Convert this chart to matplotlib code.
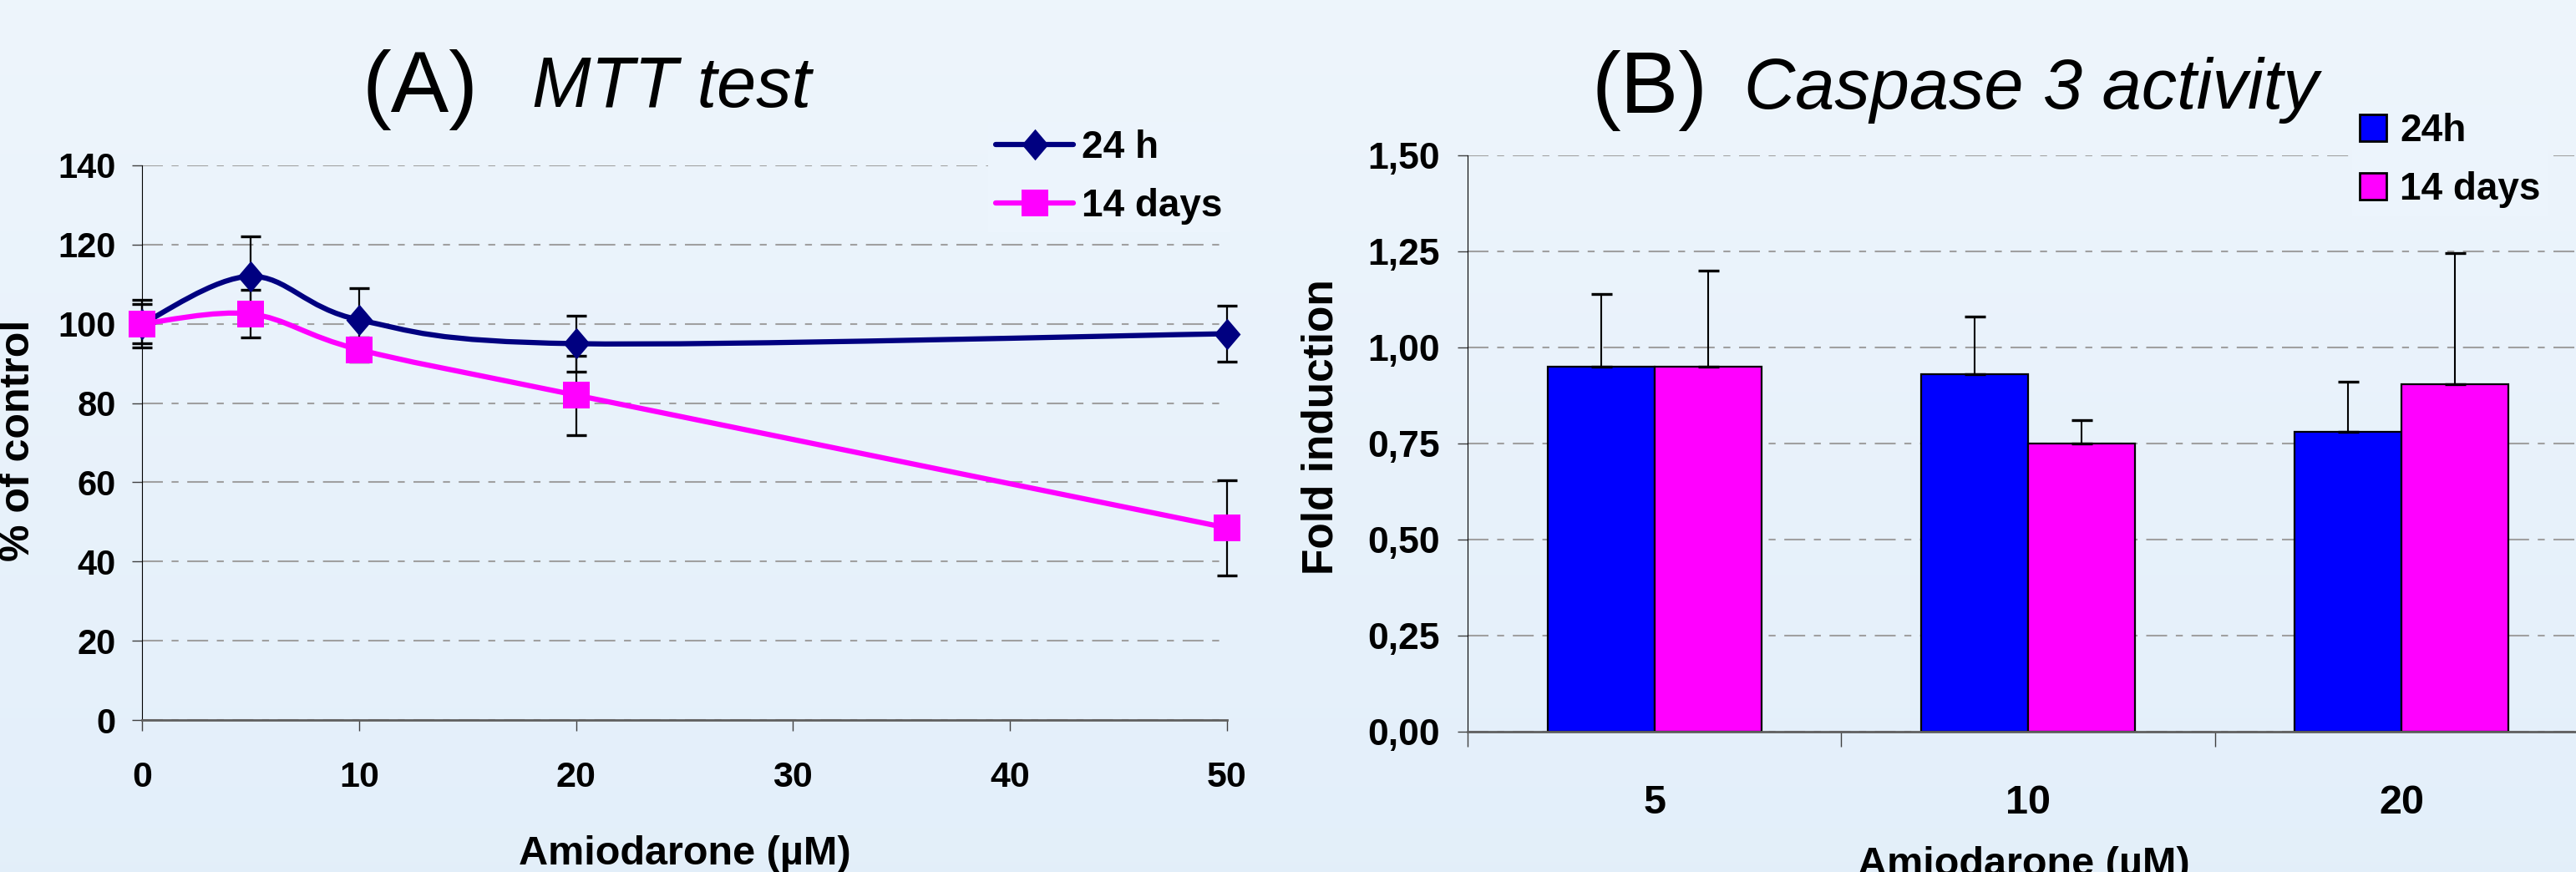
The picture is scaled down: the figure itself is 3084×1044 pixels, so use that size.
import matplotlib
matplotlib.use("Agg")
import matplotlib.pyplot as plt
import numpy as np
from matplotlib.path import Path
from matplotlib.patches import PathPatch, Patch
from matplotlib.lines import Line2D

plt.rcParams['font.family'] = ['Liberation Sans', 'DejaVu Sans']

# (A) MTT test, % of control
conc = [0, 5, 10, 20, 50]
mtt_24h = [100, 112, 101, 95, 97.5]
mtt_24h_err = [6, 10, 8, 7, 7]
mtt_14d = [100, 102.5, 93.5, 82, 48.5]
mtt_14d_err = [5, 6, 3, 10, 12]
mtt_yticks = [0, 20, 40, 60, 80, 100, 120, 140]

# (B) Caspase 3 activity, fold induction
casp_doses = ['5', '10', '20']
casp_24h = [0.95, 0.93, 0.78]
casp_24h_err = [0.19, 0.15, 0.13]
casp_14d = [0.95, 0.75, 0.905]
casp_14d_err = [0.25, 0.06, 0.34]
casp_yticks = [0.0, 0.25, 0.5, 0.75, 1.0, 1.25, 1.5]

NAVY = '#000080'
MAGENTA = '#FF00FF'
BLUE = '#0000FF'
GRID = '#A0A0A0'
W, H = 3084, 1044
LW = 4.5

fig = plt.figure(figsize=(W / 100, H / 100), dpi=100)

# light blue gradient background
bg = fig.add_axes([0, 0, 1, 1], zorder=-10)
top = np.array([0.933, 0.961, 0.988])
bot = np.array([0.890, 0.937, 0.980])
grad = np.linspace(0, 1, 256)[:, None, None] * (bot - top) + top
bg.imshow(np.repeat(grad, 2, axis=1), aspect='auto', extent=[0, 1, 0, 1])
bg.axis('off')


def bg_at(ypix):
    f = ypix / H
    return tuple(top + (bot - top) * f)


def smooth_path(ax, xs, ys):
    # Excel-style smoothed line: Catmull-Rom converted to cubic Bezier
    pts = ax.transData.transform(np.column_stack([xs, ys]))
    n = len(pts)
    verts = [pts[0]]
    codes = [Path.MOVETO]
    for i in range(n - 1):
        p0 = pts[max(i - 1, 0)]
        p1 = pts[i]
        p2 = pts[i + 1]
        p3 = pts[min(i + 2, n - 1)]
        verts += [p1 + (p2 - p0) / 6, p2 - (p3 - p1) / 6, p2]
        codes += [Path.CURVE4] * 3
    verts = ax.transData.inverted().transform(np.array(verts))
    return Path(verts, codes)


def style_grid(ax):
    ax.yaxis.grid(True, color=GRID, linewidth=1.5, dashes=(12, 5, 4, 5))
    ax.set_axisbelow(True)
    for s in ('top', 'right'):
        ax.spines[s].set_visible(False)
    ax.spines['left'].set_color('black')
    ax.spines['left'].set_linewidth(0.8)
    ax.spines['bottom'].set_color('#606060')
    ax.spines['bottom'].set_linewidth(2)
    ax.set_facecolor('none')


# ---------------- panel A ----------------
ax1 = fig.add_axes([170 / W, 1 - 862 / H, (1469 - 170) / W, (862 - 198) / H])
ax1.set_xlim(0, 50)
ax1.set_ylim(0, 140)
style_grid(ax1)
ax1.set_yticks(mtt_yticks, [str(v) for v in mtt_yticks], fontsize=30, fontweight='bold')
ax1.set_xticks([0, 10, 20, 30, 40, 50], ['0', '10', '20', '30', '40', '50'],
               fontsize=31, fontweight='bold')
ax1.tick_params(axis='y', direction='out', length=8.6, width=1, color='#404040', pad=14)
ax1.tick_params(axis='x', direction='out', length=9.4, width=1, color='#404040', pad=26)

diamond = [(0, 1), (0.85, 0), (0, -1), (-0.85, 0), (0, 1)]
for ys, err, col, mk, ms in [(mtt_24h, mtt_24h_err, NAVY, diamond, 27),
                             (mtt_14d, mtt_14d_err, MAGENTA, 's', 23)]:
    ax1.add_patch(PathPatch(smooth_path(ax1, conc, ys), fill=False, edgecolor=col,
                            linewidth=LW, capstyle='round', joinstyle='round',
                            zorder=2, clip_on=False))
    eb = ax1.errorbar(conc, ys, yerr=err, fmt='none', ecolor='black', elinewidth=1.6,
                      capsize=8.5, capthick=2.4, zorder=3)
    for art in eb.get_children():
        art.set_clip_on(False)
    ax1.plot(conc, ys, linestyle='none', marker=mk, ms=ms, mew=0, color=col,
             zorder=4, clip_on=False)

h1 = [Line2D([], [], color=NAVY, lw=LW, marker=diamond, ms=27, mew=0,
             solid_capstyle='round'),
      Line2D([], [], color=MAGENTA, lw=LW, marker='s', ms=23, mew=0,
             solid_capstyle='round')]
ax1.legend(h1, ['24 h', '14 days'], loc='center left',
           bbox_to_anchor=(1183 / W, 1 - 212 / H), bbox_transform=fig.transFigure,
           prop={'size': 33, 'weight': 'bold'}, handlelength=2.03, handletextpad=0.22,
           labelspacing=0.58, borderpad=0.2, borderaxespad=0, numpoints=1,
           frameon=True, facecolor=bg_at(212), edgecolor='none', framealpha=1,
           fancybox=False)

# ---------------- panel B ----------------
ax2 = fig.add_axes([1757 / W, 1 - 876 / H, (3099 - 1757) / W, (876 - 186) / H])
ax2.set_xlim(-0.5, 2.5)
ax2.set_ylim(0, 1.5)
style_grid(ax2)
ax2.set_yticks(casp_yticks, ['{:.2f}'.format(v).replace('.', ',') for v in casp_yticks],
               fontsize=32, fontweight='bold')
ax2.tick_params(axis='y', direction='out', length=9, width=1, color='#404040', pad=15)
xpos = np.arange(len(casp_doses))
ax2.set_xticks(xpos, casp_doses, fontsize=35, fontweight='bold')
ax2.set_xticks(np.arange(len(casp_doses) + 1) - 0.5, minor=True)
ax2.tick_params(axis='x', which='major', length=0, pad=45)
ax2.tick_params(axis='x', which='minor', direction='out', length=13, width=1,
                color='#404040')

bw = 0.286
for off, vals, err, col in [(-bw / 2, casp_24h, casp_24h_err, BLUE),
                            (bw / 2, casp_14d, casp_14d_err, MAGENTA)]:
    ax2.bar(xpos + off, vals, width=bw, color=col, edgecolor='black', linewidth=1.6,
            yerr=[np.zeros(len(vals)), err], capsize=9,
            error_kw=dict(elinewidth=1.5, capthick=2.4, ecolor='black'), zorder=2)

h2 = [Patch(facecolor=BLUE, edgecolor='black', linewidth=2),
      Patch(facecolor=MAGENTA, edgecolor='black', linewidth=2)]
ax2.legend(h2, ['24h', '14 days'], loc='center left',
           bbox_to_anchor=(2816 / W, 1 - 192 / H), bbox_transform=fig.transFigure,
           prop={'size': 33, 'weight': 'bold'}, handlelength=0.7, handleheight=0.7,
           handletextpad=0.35, labelspacing=0.56, borderpad=0.2, borderaxespad=0,
           frameon=True, facecolor=bg_at(192), edgecolor='none', framealpha=1,
           fancybox=False)

# ---------------- titles and axis labels ----------------
fig.text(434 / W, 1 - 134 / H, '(A)', fontsize=75, va='baseline', ha='left')
fig.text(637 / W, 1 - 128 / H, 'MTT test', fontsize=61, style='italic',
         va='baseline', ha='left')
fig.text(1906 / W, 1 - 135 / H, '(B)', fontsize=75, va='baseline', ha='left')
fig.text(2088 / W, 1 - 130 / H, 'Caspase 3 activity', fontsize=61, style='italic',
         va='baseline', ha='left')

fig.text(45 / W, 1 - 527 / H, '% of control', rotation=90, ha='right', va='center',
         fontsize=36, fontweight='bold')
fig.text(1606 / W, 1 - 511 / H, 'Fold induction', rotation=90, ha='right', va='center',
         fontsize=37, fontweight='bold')
fig.text(820 / W, 1 - 1035 / H, 'Amiodarone (µM)', ha='center', va='baseline',
         fontsize=35, fontweight='bold')
# the reference crops this label at the bottom edge
fig.text(2423 / W, 1 - 1048 / H, 'Amiodarone (µM)', ha='center', va='baseline',
         fontsize=35, fontweight='bold')

fig.savefig('out.png', dpi=100)
